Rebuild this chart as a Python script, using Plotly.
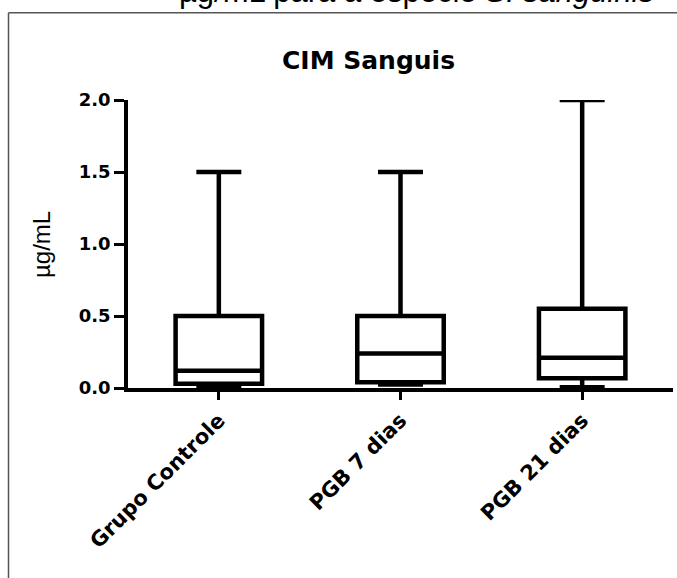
import plotly.graph_objects as go

categories = ["Grupo Controle", "PGB 7 dias", "PGB 21 dias"]
q1_vals = [0.03, 0.04, 0.067]
median_vals = [0.12, 0.24, 0.21]
q3_vals = [0.50, 0.50, 0.55]
lower_vals = [0.008, 0.025, 0.005]
upper_vals = [1.5, 1.5, 2.0]
y_ticks = [0.0, 0.5, 1.0, 1.5, 2.0]
y_tick_labels = ["0.0", "0.5", "1.0", "1.5", "2.0"]

W, H = 677, 578
L, R, T, B = 128, 4, 100, 190
pw, ph = W - L - R, H - T - B

def px(x):
    return (x - L) / pw

def py(y):
    return (H - B - y) / ph

fig = go.Figure()
fig.add_trace(go.Box(
    x=categories,
    q1=q1_vals, median=median_vals, q3=q3_vals,
    lowerfence=lower_vals, upperfence=upper_vals,
    fillcolor="white",
    line=dict(color="black", width=4.5),
    whiskerwidth=0.52,
    boxpoints=False,
    showlegend=False,
    hoverinfo="skip",
))

fig.update_layout(
    width=W, height=H,
    margin=dict(l=L, r=R, t=T, b=B, autoexpand=False),
    paper_bgcolor="white", plot_bgcolor="white",
    boxgap=0.32,
    showlegend=False,
    font=dict(family="DejaVu Sans", color="black"),
)
fig.update_xaxes(
    type="category", range=[-0.5, 2.5],
    showline=True, linecolor="black", linewidth=3.5,
    ticks="outside", ticklen=8, tickwidth=3, tickcolor="black",
    tickangle=-45,
    tickfont=dict(family="DejaVu Sans", size=21, weight="bold", color="black"),
    showgrid=False, zeroline=False, automargin=False,
)
fig.update_yaxes(
    range=[0, 2],
    tickvals=y_ticks, ticktext=y_tick_labels,
    showline=True, linecolor="black", linewidth=3.5,
    ticks="outside", ticklen=10, tickwidth=3, tickcolor="black",
    tickfont=dict(family="DejaVu Sans", size=18, weight="bold", color="black"),
    showgrid=False, zeroline=False, automargin=False,
)

# chart title
fig.add_annotation(
    text="<b>CIM Sanguis</b>", xref="paper", yref="paper",
    x=px(368), y=py(60), xanchor="center", yanchor="middle",
    showarrow=False, font=dict(family="DejaVu Sans", size=25, color="black"),
)
# y-axis title
fig.add_annotation(
    text="µg/mL", xref="paper", yref="paper",
    x=px(41), y=py(245), xanchor="center", yanchor="middle",
    textangle=-90, showarrow=False,
    font=dict(family="Liberation Sans", size=24, color="black"),
)
# cropped caption text at the very top
fig.add_annotation(
    text="µg/mL para a espécie <i>S. sanguinis</i>", xref="paper", yref="paper",
    x=px(177), y=py(11.5), xanchor="left", yanchor="bottom",
    showarrow=False,
    font=dict(family="Liberation Sans", size=31, color="black"),
)
# frame lines of the cropped figure
fig.add_shape(type="line", xref="paper", yref="paper",
              x0=px(8.5), x1=px(677), y0=py(12.7), y1=py(12.7),
              line=dict(color="#555555", width=1.5))
fig.add_shape(type="line", xref="paper", yref="paper",
              x0=px(8.5), x1=px(8.5), y0=py(12.7), y1=py(578),
              line=dict(color="#555555", width=1.5))

fig.write_html("out.html", config={"displayModeBar": False},
               post_script="document.body.style.margin='0';")
